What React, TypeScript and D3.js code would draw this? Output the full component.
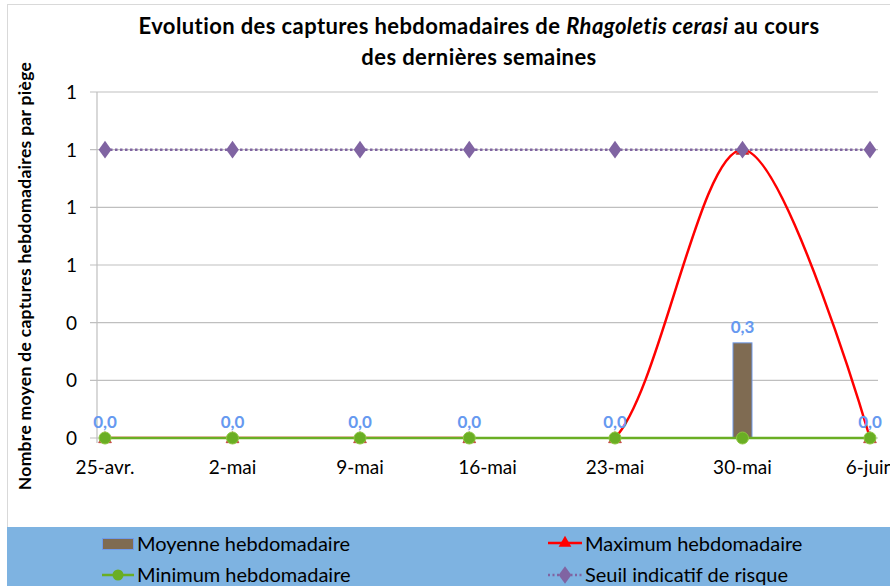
import { useEffect, useRef } from "react"
import * as d3 from "d3"

const dates = ["2014-04-25", "2014-05-02", "2014-05-09", "2014-05-15", "2014-05-23", "2014-05-30", "2014-06-06"]
const moyenne = [0, 0, 0, 0, 0, 0.33, 0]
const maximum = [0, 0, 0, 0, 0, 1, 0]
const minimum = [0, 0, 0, 0, 0, 0, 0]
const seuil = [1, 1, 1, 1, 1, 1, 1]
const tickDates = ["2014-04-25", "2014-05-02", "2014-05-09", "2014-05-16", "2014-05-23", "2014-05-30", "2014-06-06"]
const tickLabels = ["25-avr.", "2-mai", "9-mai", "16-mai", "23-mai", "30-mai", "6-juin"]
const yTicks = [0, 0.2, 0.4, 0.6, 0.8, 1, 1.2]

const parse = d3.utcParse("%Y-%m-%d")
const font = "Lato, 'Open Sans', sans-serif"

export default function App() {
  const svgRef = useRef<SVGSVGElement>(null)

  useEffect(() => {
    if (!svgRef.current) return
    document.body.style.margin = "0"
    const svg = d3.select(svgRef.current)
    svg.selectAll("*").remove()

    const W = 890
    const H = 586
    const left = 97
    const right = 878
    const top = 92
    const bottom = 438

    // chart border
    svg.append("rect").attr("x", 7.5).attr("y", 4.5).attr("width", W).attr("height", H)
      .attr("fill", "#fff").attr("stroke", "#d9d9d9")

    const t = dates.map((d) => parse(d) as Date)
    const pad = 0.44 * 86400000
    const x = d3.scaleUtc()
      .domain([new Date(t[0].getTime() - pad), new Date(t[t.length - 1].getTime() + pad)])
      .range([left, right])
    const y = d3.scaleLinear().domain([0, 1.2]).range([bottom, top])

    svg.append("defs").append("clipPath").attr("id", "plot-clip")
      .append("rect").attr("x", left).attr("y", top - 5).attr("width", right - left + 10).attr("height", bottom - top + 6)

    // grid
    svg.append("g").selectAll("line").data(yTicks).enter().append("line")
      .attr("x1", left - 7).attr("x2", right)
      .attr("y1", (d) => y(d)).attr("y2", (d) => y(d))
      .attr("stroke", "#bfbfbf").attr("stroke-width", 1.2)
    svg.append("line").attr("x1", left).attr("x2", left).attr("y1", top).attr("y2", bottom + 5)
      .attr("stroke", "#bfbfbf").attr("stroke-width", 1.2)

    svg.append("g").selectAll("text").data(yTicks).enter().append("text")
      .attr("x", 77).attr("y", (d) => y(d) + 7)
      .attr("text-anchor", "end").attr("font-family", font).attr("font-size", 19)
      .attr("fill", "#000").text((d) => d3.format(".0f")(d))

    svg.append("g").selectAll("text").data(tickDates).enter().append("text")
      .attr("x", (d) => x(parse(d) as Date)).attr("y", 474)
      .attr("text-anchor", "middle").attr("font-family", font).attr("font-size", 19)
      .attr("fill", "#000").text((_, i) => tickLabels[i])

    // bars
    const bw = 19
    svg.append("g").selectAll("rect").data(moyenne).enter().append("rect")
      .attr("x", (_, i) => x(t[i]) - bw / 2).attr("width", bw)
      .attr("y", (d) => y(d)).attr("height", (d) => bottom - y(d))
      .attr("fill", "#7f6b52").attr("stroke", "#6f9ae8").attr("stroke-width", (d) => (d > 0 ? 1 : 0))

    // maximum
    const line = d3.line<number>().x((_, i) => x(t[i])).y((d) => y(d)).curve(d3.curveCardinal.tension(0))
    svg.append("path").datum(maximum).attr("d", line).attr("fill", "none")
      .attr("clip-path", "url(#plot-clip)")
      .attr("stroke", "#ff0000").attr("stroke-width", 2.5)
    const tri = d3.symbol().type(d3.symbolTriangle).size(70)
    svg.append("g").selectAll("path").data(maximum).enter().append("path")
      .attr("d", tri).attr("transform", (d, i) => `translate(${x(t[i])},${y(d) + 1})`)
      .attr("fill", "#ff0000").attr("stroke", "#c0504d")

    // minimum
    const straight = d3.line<number>().x((_, i) => x(t[i])).y((d) => y(d))
    svg.append("path").datum(minimum).attr("d", straight).attr("fill", "none")
      .attr("stroke", "#6aae24").attr("stroke-width", 2.5)
    svg.append("g").selectAll("circle").data(minimum).enter().append("circle")
      .attr("cx", (_, i) => x(t[i])).attr("cy", (d) => y(d)).attr("r", 6)
      .attr("fill", "#6aae24").attr("stroke", "#8cc63f").attr("stroke-width", 1)

    // seuil
    svg.append("path").datum(seuil).attr("d", straight).attr("fill", "none")
      .attr("stroke", "#8064a2").attr("stroke-width", 2.5).attr("stroke-dasharray", "2.5 2.5")
    const dia = d3.symbol().type(d3.symbolDiamond).size(90)
    svg.append("g").selectAll("path").data(seuil).enter().append("path")
      .attr("d", dia).attr("transform", (d, i) => `translate(${x(t[i])},${y(d)}) scale(1.25,1)`)
      .attr("fill", "#8064a2")

    // data labels
    svg.append("g").selectAll("text").data(moyenne).enter().append("text")
      .attr("x", (_, i) => x(t[i])).attr("y", (d) => y(d) - 10)
      .attr("text-anchor", "middle").attr("font-family", font).attr("font-weight", "bold")
      .attr("font-size", 17).attr("fill", "#6699f0")
      .text((d) => d3.format(".1f")(d).replace(".", ","))

    // title
    const title = svg.append("text").attr("text-anchor", "middle").attr("font-family", font)
      .attr("font-weight", "bold").attr("font-size", 22).attr("letter-spacing", 0.4).attr("fill", "#000")
    const l1 = title.append("tspan").attr("x", 479).attr("y", 34)
    l1.append("tspan").text("Evolution des captures hebdomadaires de ")
    l1.append("tspan").attr("font-style", "italic").text("Rhagoletis cerasi")
    l1.append("tspan").text(" au cours")
    title.append("tspan").attr("x", 479).attr("y", 65).text("des dernières semaines")

    svg.append("text").attr("transform", "translate(31,276) rotate(-90)")
      .attr("text-anchor", "middle").attr("font-family", font).attr("font-weight", "bold")
      .attr("font-size", 17.5).attr("letter-spacing", 0.3).attr("fill", "#000")
      .text("Nombre moyen de captures hebdomadaires par piège")

    // legend
    svg.append("rect").attr("x", 7).attr("y", 527).attr("width", W - 7).attr("height", H - 527)
      .attr("fill", "#7eb3e1")
    const lg = svg.append("g").attr("font-family", font).attr("font-size", 20).attr("fill", "#000")
    lg.append("rect").attr("x", 102.5).attr("y", 538.5).attr("width", 31).attr("height", 11)
      .attr("fill", "#7f6b52").attr("stroke", "#6f9ae8")
    lg.append("text").attr("x", 137).attr("y", 551).text("Moyenne hebdomadaire")
    lg.append("line").attr("x1", 548).attr("x2", 582).attr("y1", 543).attr("y2", 543)
      .attr("stroke", "#ff0000").attr("stroke-width", 2.5)
    lg.append("path").attr("d", tri).attr("transform", "translate(565,543)").attr("fill", "#ff0000")
    lg.append("text").attr("x", 585).attr("y", 551).text("Maximum hebdomadaire")
    lg.append("line").attr("x1", 102).attr("x2", 134).attr("y1", 575).attr("y2", 575)
      .attr("stroke", "#6aae24").attr("stroke-width", 2.5)
    lg.append("circle").attr("cx", 118).attr("cy", 575).attr("r", 5.5).attr("fill", "#6aae24")
    lg.append("text").attr("x", 137).attr("y", 582).text("Minimum hebdomadaire")
    lg.append("line").attr("x1", 548).attr("x2", 582).attr("y1", 575).attr("y2", 575)
      .attr("stroke", "#8064a2").attr("stroke-width", 2.5).attr("stroke-dasharray", "2 2.5")
    lg.append("path").attr("d", dia).attr("transform", "translate(565,575) scale(1.25,1)").attr("fill", "#8064a2")
    lg.append("text").attr("x", 585).attr("y", 582).text("Seuil indicatif de risque")
  }, [])

  return <svg ref={svgRef} width={890} height={586} style={{ display: "block", position: "absolute", left: 0, top: 0 }} />
}
